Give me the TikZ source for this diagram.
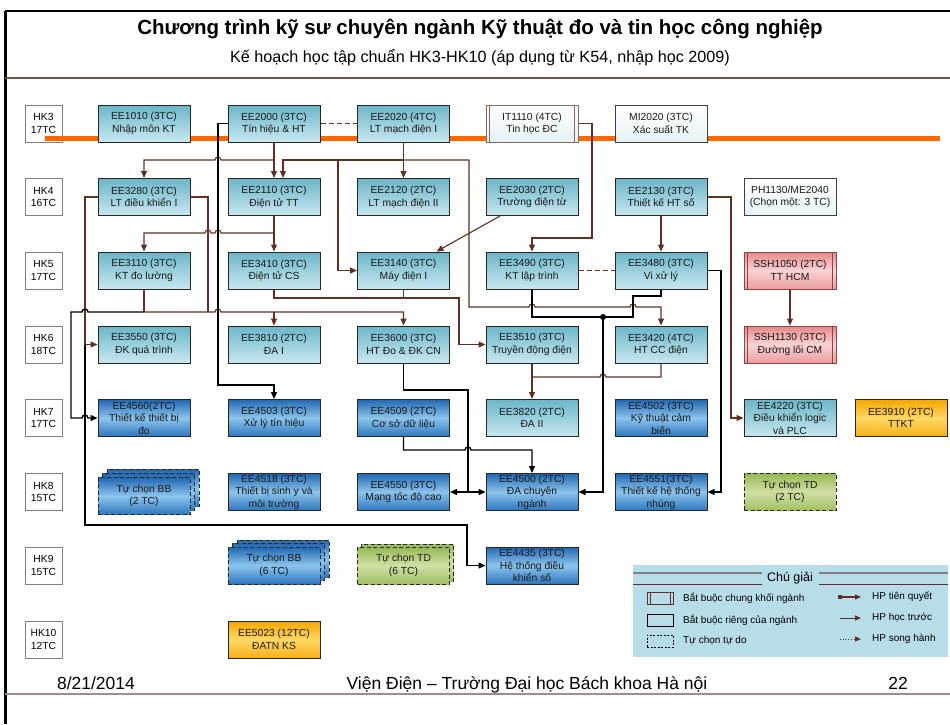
\documentclass[tikz,border=0pt]{standalone}
\usepackage{fontspec}
\setmainfont{Liberation Sans}
\usetikzlibrary{arrows.meta,backgrounds}

\definecolor{brn}{RGB}{98,48,34}
\definecolor{hkgray}{RGB}{128,128,128}
\definecolor{orangeline}{RGB}{255,102,0}
\definecolor{cyTop}{RGB}{108,182,201}
\definecolor{cyBot}{RGB}{200,232,240}
\definecolor{blTop}{RGB}{34,104,178}
\definecolor{blMid}{RGB}{140,196,236}
\definecolor{blBot}{RGB}{46,118,190}
\definecolor{orTop}{RGB}{244,166,0}
\definecolor{orMid}{RGB}{255,216,100}
\definecolor{orBot}{RGB}{246,176,24}
\definecolor{grTop}{RGB}{152,185,86}
\definecolor{grMid}{RGB}{208,224,164}
\definecolor{grBot}{RGB}{160,192,98}
\definecolor{pkTop}{RGB}{228,136,136}
\definecolor{pkMid}{RGB}{250,212,212}
\definecolor{pkBot}{RGB}{234,156,156}
\definecolor{pkEdge}{RGB}{140,70,70}
\definecolor{itEdge}{RGB}{140,105,95}
\definecolor{wtBot}{RGB}{230,242,246}
\definecolor{legbg}{RGB}{183,221,232}
\definecolor{footline}{RGB}{165,140,140}

\tikzset{
  course/.style={draw=black!85, line width=1pt, minimum width=92pt, minimum height=37pt,
    inner sep=0pt, align=center, text=black!90, font=\fontsize{10.3}{12.5}\selectfont},
  cyanbox/.style={course, top color=cyTop, bottom color=cyBot},
  bluebox/.style={course, top color=blTop, bottom color=blBot, middle color=blMid},
  orbox/.style={course, top color=orTop, bottom color=orBot, middle color=orMid},
  grbox/.style={course, dash pattern=on 4pt off 2.5pt, top color=grTop, bottom color=grBot, middle color=grMid},
  bluedash/.style={bluebox, dash pattern=on 4pt off 2.5pt},
  sidebars/.style={path picture={\draw[#1, line width=0.8pt]
      ([xshift=3.5pt]path picture bounding box.north west) -- ([xshift=3.5pt]path picture bounding box.south west)
      ([xshift=-3.5pt]path picture bounding box.north east) -- ([xshift=-3.5pt]path picture bounding box.south east);}},
  commonbox/.style={course, draw=itEdge, top color=white, bottom color=wtBot, sidebars=itEdge},
  pinkbox/.style={course, draw=pkEdge, top color=pkTop, bottom color=pkBot, middle color=pkMid, sidebars=pkEdge},
  plainbox/.style={course, draw=black!75, line width=0.8pt, top color=white, bottom color=wtBot},
  hkbox/.style={draw=hkgray, line width=1pt, fill=white, minimum width=37pt, minimum height=37pt,
    inner sep=0pt, align=center, font=\fontsize{10.3}{12.5}\selectfont},
  tip/.style={-{Triangle[length=7pt,width=6pt]}},
  brL/.style={draw=brn, line width=1.1pt},
  brA/.style={brL, tip},
  bkL/.style={draw=black, line width=1.4pt},
  bkA/.style={bkL, tip},
  brDash/.style={draw=brn, line width=1pt, dash pattern=on 5pt off 3pt},
  legtext/.style={anchor=west, font=\fontsize{10}{12}\selectfont, inner sep=0pt},
  foot/.style={anchor=base, inner sep=0pt, font=\fontsize{17.5}{21}\selectfont}
}

\begin{document}
\begin{tikzpicture}[x=1pt,y=-1pt]
\useasboundingbox (0,0) rectangle (950,724);
\fill[white] (0,0) rectangle (950,724);

% frame and header
\draw[line width=1.5pt] (5,11) -- (950,11);
\draw[line width=3pt] (5,11) -- (5,724);
\draw[brn!85, line width=1.3pt] (5,78) -- (950,78);
\node[font=\bfseries\fontsize{20.5}{24}\selectfont] (title) at (480,29)
  {Chương trình kỹ sư chuyên ngành Kỹ thuật đo và tin học công nghiệp};
\node[font=\fontsize{16.2}{19}\selectfont] (subtitle) at (480,58)
  {Kế hoạch học tập chuẩn HK3-HK10 (áp dụng từ K54, nhập học 2009)};

% footer
\draw[footline, line width=2pt] (5,694) -- (950,694);
\node[foot] (date) at (96,689) {8/21/2014};
\node[foot] (inst) at (527,689) {Viện Điện – Trường Đại học Bách khoa Hà nội};
\node[foot] (page) at (898,689) {22};

% semesters
\node[hkbox] (hk3) at (43.5,123.5) {HK3\\17TC};
\node[hkbox] (hk4) at (43.5,197) {HK4\\16TC};
\node[hkbox] (hk5) at (43.5,270.5) {HK5\\17TC};
\node[hkbox] (hk6) at (43.5,344.5) {HK6\\18TC};
\node[hkbox] (hk7) at (43.5,418) {HK7\\17TC};
\node[hkbox] (hk8) at (43.5,492) {HK8\\15TC};
\node[hkbox] (hk9) at (43.5,565.5) {HK9\\15TC};
\node[hkbox] (hk10) at (43.5,639.5) {HK10\\12TC};
\begin{scope}[on background layer]
  \draw[hkgray, line width=1.5pt] (hk3) -- (hk10);
\end{scope}
\draw[orangeline, line width=5pt] (45,138.5) -- (940,138.5);

% HK3
\node[cyanbox] (ee1010) at (144,123.5) {EE1010 (3TC)\\Nhập môn KT};
\node[cyanbox] (ee2000) at (274,123.5) {EE2000 (3TC)\\Tín hiệu \& HT};
\node[cyanbox] (ee2020) at (403.5,123.5) {EE2020 (4TC)\\LT mạch điện I};
\node[commonbox] (it1110) at (532,123.5) {IT1110 (4TC)\\Tin học ĐC};
\node[plainbox] (mi2020) at (661,123.5) {MI2020 (3TC)\\Xác suất TK};
% HK4
\node[cyanbox] (ee3280) at (144,197) {EE3280 (3TC)\\LT điều khiển I};
\node[cyanbox] (ee2110) at (274,197) {EE2110 (3TC)\\Điện tử TT};
\node[cyanbox] (ee2120) at (403.5,197) {EE2120 (2TC)\\LT mạch điện II};
\node[cyanbox] (ee2030) at (532,197) {EE2030 (2TC)\\Trường điện từ};
\node[cyanbox] (ee2130) at (661,197) {EE2130 (3TC)\\Thiết kế HT số};
\node[plainbox] (ph1130) at (790,197) {PH1130/ME2040\\(Chọn một: 3 TC)};
% HK5
\node[cyanbox] (ee3110) at (144,270.5) {EE3110 (3TC)\\KT đo lường};
\node[cyanbox] (ee3410) at (274,270.5) {EE3410 (3TC)\\Điện tử CS};
\node[cyanbox] (ee3140) at (403.5,270.5) {EE3140 (3TC)\\Máy điện I};
\node[cyanbox] (ee3490) at (532,270.5) {EE3490 (3TC)\\KT lập trình};
\node[cyanbox] (ee3480) at (661,270.5) {EE3480 (3TC)\\Vi xử lý};
\node[pinkbox] (ssh1050) at (790,270.5) {SSH1050 (2TC)\\TT HCM};
% HK6
\node[cyanbox] (ee3550) at (144,344.5) {EE3550 (3TC)\\ĐK quá trình};
\node[cyanbox] (ee3810) at (274,344.5) {EE3810 (2TC)\\ĐA I};
\node[cyanbox] (ee3600) at (403.5,344.5) {EE3600 (3TC)\\HT Đo \& ĐK CN};
\node[cyanbox] (ee3510) at (532,344.5) {EE3510 (3TC)\\Truyền động điện};
\node[cyanbox] (ee3420) at (661,344.5) {EE3420 (4TC)\\HT CC điện};
\node[pinkbox] (ssh1130) at (790,344.5) {SSH1130 (3TC)\\Đường lối CM};
% HK7
\node[bluebox] (ee4560) at (144,418) {EE4560(2TC)\\Thiết kế thiết bị\\đo};
\node[bluebox] (ee4503) at (274,418) {EE4503 (3TC)\\Xử lý tín hiệu};
\node[bluebox] (ee4509) at (403.5,418) {EE4509 (2TC)\\Cơ sở dữ liệu};
\node[cyanbox] (ee3820) at (532,418) {EE3820 (2TC)\\ĐA II};
\node[bluebox] (ee4502) at (661,418) {EE4502 (3TC)\\Kỹ thuật cảm\\biến};
\node[cyanbox] (ee4220) at (790,418) {EE4220 (3TC)\\Điều khiển logic\\và PLC};
\node[orbox] (ee3910) at (901,418) {EE3910 (2TC)\\TTKT};
% HK8
\node[bluedash] (bb2c) at (153,488) {};
\node[bluedash] (bb2b) at (148.5,492) {};
\node[bluedash] (bb2) at (144,496) {Tự chọn BB\\(2 TC)};
\node[bluebox] (ee4518) at (274,492) {EE4518 (3TC)\\Thiết bị sinh y và\\môi trường};
\node[bluebox] (ee4550) at (403.5,492) {EE4550 (3TC)\\Mạng tốc độ cao};
\node[bluebox] (ee4500) at (532,492) {EE4500 (2TC)\\ĐA chuyên\\ngành};
\node[bluebox] (ee4551) at (661,492) {EE4551(3TC)\\Thiết kế hệ thống\\nhúng};
\node[grbox] (td2) at (790,492) {Tự chọn TD\\(2 TC)};
% HK9
\node[bluedash] (bb6c) at (283,558.5) {};
\node[bluedash] (bb6b) at (278.5,562) {};
\node[bluedash] (bb6) at (274,565.5) {Tự chọn BB\\(6 TC)};
\node[grbox] (td6b) at (407.5,562.5) {};
\node[grbox] (td6) at (403.5,565.5) {Tự chọn TD\\(6 TC)};
\node[bluebox] (ee4435) at (532,565.5) {EE4435 (3TC)\\Hệ thống điều\\khiển số};
% HK10
\node[orbox] (ee5023) at (274,639.5) {EE5023 (12TC)\\ĐATN KS};

% parallel courses
\draw[brDash] (ee2000.east) -- (ee2020.west);
\draw[brDash] (ee3490.east) -- (ee3480.west);

% brown prerequisite links
\draw[brA] (ee2000.south) -- (ee2110.north);
\draw[brA] (274,160) -- (221,160) arc[start angle=0,end angle=180,radius=3pt] -- (144,160) -- (ee3280.north);
\draw[brA] (ee2020.south) -- (ee2120.north);
\draw[brA] (403.5,160) -- (283,160) -- ([xshift=9pt]ee2110.north);
\draw[brA] (338,160) |- (ee3140.west);
\draw[brA] (403.5,160) -- (469,160) -- (469,307) -- (529,307) arc[start angle=180,end angle=0,radius=3pt]
  -- (630,307) arc[start angle=180,end angle=0,radius=3pt] -- (661,307) -- (ee3420.north);
\draw[brA] ([xshift=-32pt]ee2030.south) -- ([xshift=33pt]ee3140.north);
\draw[brA] (it1110.east) -| (592,238) -| (ee3490.north);
\draw[brA] (ee2130.south) -- (ee3480.north);
\draw[brA] (ee2130.east) -| (731,418) -- (ee4220.west);
\draw[brA] (ee2110.south) -- (ee3410.north);
\draw[brA] (274,233) -- (221,233) arc[start angle=0,end angle=180,radius=3pt]
  -- (211,233) arc[start angle=0,end angle=180,radius=3pt] -- (144,233) -- (ee3110.north);
\draw[brA] (ee3280.west) -| (85,344.5) -- (ee3550.west);
\draw[brL] (ee3280.east) -| (208,312);
\draw[brL] (ee3110.south) -- (144,312);
\draw[brA] (144,312) -- (215,312) arc[start angle=180,end angle=0,radius=3pt] -- (403.5,312) -- (ee3600.north);
\draw[brA] (274,312) -- (ee3810.north);
\draw[brA] (ee3410.south) -- (274,298) -- (459,298) |- (ee3510.west);
\draw[brL] (ee3140.south) -- (403.5,298);
\draw[brA] (ee3510.south) -- (532,377) -- (ee3820.north);
\draw[brL] (ee3420.south) -- (661,377) -- (606,377) arc[start angle=0,end angle=180,radius=3pt] -- (532,377);
\draw[brA] (ssh1050) -- (ssh1130);

% black prerequisite links
\draw[bkA] (ee2000.west) -- (218,123.5) -- (218,385) -| (ee4503.north);
\draw[bkA] (144,312) -- (88,312) arc[start angle=0,end angle=180,radius=3pt] -- (71,312) -- (71,418)
  -- (82,418) arc[start angle=180,end angle=0,radius=3pt] -- (ee4560.west);
\draw[bkA] (85,344.5) -- (85,525) -- (467,525) |- (ee4435.west);
\draw[bkL] (ee3600.south) -- (403.5,390) -- (468,390) -- (468,492);
\draw[bkA] (468,492) -- (ee4550.east);
\draw[bkA] (468,492) -- (ee4500.west);
\draw[bkA] (ee4509.south) -- (403.5,450) -- (465,450) arc[start angle=180,end angle=0,radius=3pt] -- (532,450) -- (ee4500.north);
\draw[bkL] (ee3490.south) -- (532,317) -- (633,317) -- (633,296) -- (661,296) -- (ee3480.south);
\fill (603,317) circle (3pt);
\draw[bkA] (603,317) -- (603,492) -- (ee4500.east);
\draw[bkA] (ee3480.east) -- (721,270.5) -- (721,492) -- (ee4551.east);

% legend
\fill[legbg] (633,565) rectangle (948,657);
\draw[gray, line width=1.5pt] (633,573) -- (762,573) (819,573) -- (948,573);
\draw[brn, line width=1pt] (633,584) -- (762,584) (819,584) -- (948,584);
\node[font=\fontsize{12.5}{15}\selectfont] (legtitle) at (790,578) {Chú giải};
\node[draw=brn, line width=0.9pt, minimum width=26pt, minimum height=12pt, inner sep=0pt,
  path picture={\draw[brn, line width=0.7pt]
      ([xshift=3pt]path picture bounding box.north west) -- ([xshift=3pt]path picture bounding box.south west)
      ([xshift=-3pt]path picture bounding box.north east) -- ([xshift=-3pt]path picture bounding box.south east);}]
  (symcommon) at (660,598) {};
\node[draw=black, line width=0.9pt, minimum width=26pt, minimum height=12pt, inner sep=0pt] (symown) at (660,620.5) {};
\node[draw=black, line width=0.9pt, dash pattern=on 2pt off 1.5pt, minimum width=26pt, minimum height=12pt, inner sep=0pt] (symfree) at (660,641) {};
\node[legtext] (lg1) at (683,598) {Bắt buộc chung khối ngành};
\node[legtext] (lg2) at (683,620.5) {Bắt buộc riêng của ngành};
\node[legtext] (lg3) at (683,641) {Tự chọn tự do};
\coordinate (a1s) at (838,597);
\coordinate (a1e) at (861,597);
\coordinate (a2s) at (840,618);
\coordinate (a2e) at (861,618);
\coordinate (a3s) at (840,639);
\coordinate (a3e) at (861,639);
\draw[draw=brn, line width=1.3pt, {Square[length=4pt,width=4pt]}-{Triangle[length=6pt,width=5pt]}] (a1s) -- (a1e);
\draw[draw=brn, line width=0.9pt, -{Triangle[length=6pt,width=5pt]}] (a2s) -- (a2e);
\draw[draw=brn, line width=0.7pt, dotted, -{Triangle[length=6pt,width=5pt]}] (a3s) -- (a3e);
\node[legtext] (lg4) at (872,597) {HP tiên quyết};
\node[legtext] (lg5) at (872,618) {HP học trước};
\node[legtext] (lg6) at (872,639) {HP song hành};
\end{tikzpicture}
\end{document}
